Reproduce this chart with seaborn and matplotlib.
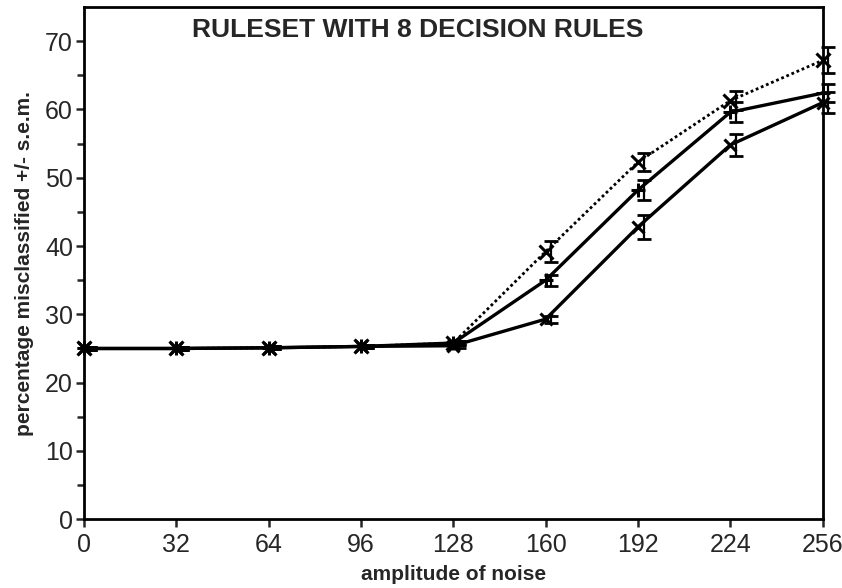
import matplotlib
matplotlib.use("Agg")
import pandas as pd
import matplotlib.pyplot as plt
import seaborn as sns

# amplitude of noise
noise = [0, 32, 64, 96, 128, 160, 192, 224, 256]

# percentage misclassified, three conditions
dotted = [25.0, 25.0, 25.1, 25.3, 25.8, 39.2, 52.3, 61.3, 67.2]
dotted_sem = [0.2, 0.2, 0.2, 0.2, 0.3, 1.6, 1.3, 1.4, 1.9]
middle = [25.0, 25.0, 25.1, 25.3, 25.8, 35.0, 48.2, 59.6, 62.4]
middle_sem = [0.2, 0.2, 0.2, 0.2, 0.3, 0.8, 1.5, 1.5, 1.3]
lower = [25.0, 25.0, 25.1, 25.3, 25.4, 29.3, 42.8, 54.8, 61.0]
lower_sem = [0.2, 0.2, 0.2, 0.2, 0.3, 0.5, 1.8, 1.6, 1.5]

df = pd.DataFrame({"noise": noise, "dotted": dotted, "middle": middle, "lower": lower})

sns.set_style("ticks")
plt.rcParams["font.family"] = ["Liberation Sans", "DejaVu Sans"]

fig = plt.figure(figsize=(8.42, 5.88), dpi=100)
ax = fig.add_axes([0.0998, 0.117, 0.8772, 0.871])

sns.lineplot(data=df, x="noise", y="dotted", ax=ax, color="black", linestyle=(0, (1, 1)),
             linewidth=2.0, marker="x", markersize=10, markeredgewidth=2.2,
             markeredgecolor="black", clip_on=False)
sns.lineplot(data=df, x="noise", y="middle", ax=ax, color="black", linewidth=2.4,
             marker="+", markersize=10, markeredgewidth=2.2,
             markeredgecolor="black", clip_on=False)
sns.lineplot(data=df, x="noise", y="lower", ax=ax, color="black", linewidth=2.4,
             marker="x", markersize=8, markeredgewidth=2.2,
             markeredgecolor="black", clip_on=False)

for vals, sem in [(dotted, dotted_sem), (middle, middle_sem), (lower, lower_sem)]:
    ax.errorbar([n + 2 for n in noise], vals, yerr=sem, fmt="none", ecolor="black",
                elinewidth=1.6, capsize=5, capthick=2, clip_on=False)

ax.set_xlim(0, 256)
ax.set_ylim(0, 75)
ax.set_xticks(noise)
ax.set_yticks(range(0, 71, 10))
ax.set_yticks(range(5, 75, 10), minor=True)
ax.tick_params(axis="both", which="major", labelsize=18, width=1.8, length=6,
               direction="out", pad=2)
ax.tick_params(axis="x", which="major", pad=4)
ax.tick_params(axis="y", which="minor", width=1.8, length=5)
for s in ax.spines.values():
    s.set_linewidth(2)
    s.set_color("black")

ax.set_xlabel("amplitude of noise", fontsize=15, fontweight="bold", labelpad=6)
ax.set_ylabel("percentage misclassified +/- s.e.m.", fontsize=15, fontweight="bold", labelpad=8)
ax.text(0.452, 0.955, "RULESET WITH 8 DECISION RULES", transform=ax.transAxes,
        ha="center", va="center", fontsize=19, fontweight="bold")

fig.savefig("out.png", dpi=100)
